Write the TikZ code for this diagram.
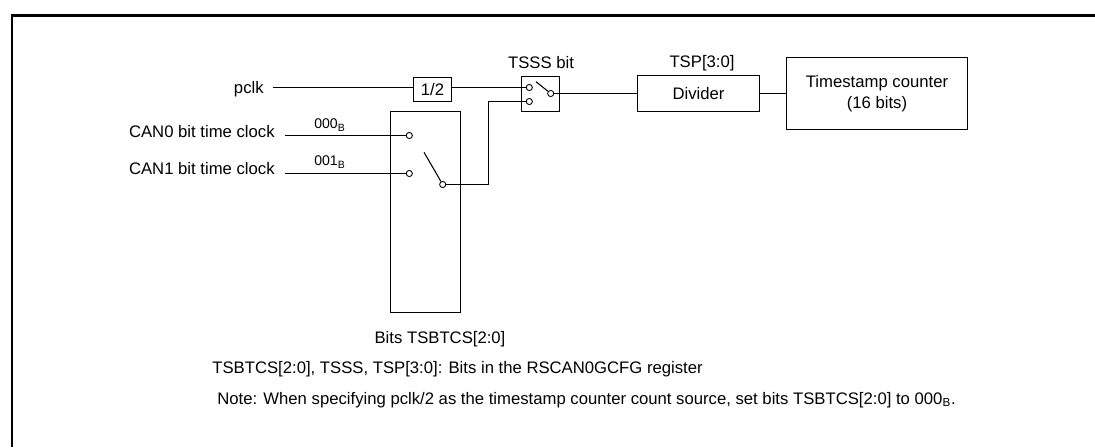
\documentclass[tikz,border=0pt]{standalone}
\usepackage{fontspec}
\setmainfont{Liberation Sans}
\usetikzlibrary{positioning}
\tikzset{
  blockbox/.style={draw,line width=0.6pt,inner sep=0pt,font=\fontsize{9.5pt}{11.7pt}\selectfont,align=center},
  contact/.style={draw,circle,fill=white,inner sep=0pt,minimum size=3.5pt,line width=0.5pt},
  wire/.style={line width=0.6pt},
  lbl/.style={font=\fontsize{9.5pt}{11.7pt}\selectfont,inner sep=0pt},
  sel/.style={font=\fontsize{8pt}{10pt}\selectfont,inner sep=0pt},
}
\newcommand{\subB}[1]{#1\textsubscript{B}}
\begin{document}
\begin{tikzpicture}[x=0.02cm,y=-0.02cm]
  \useasboundingbox (0,0) rectangle (1095,447);
  \draw[line width=1.15pt] (12,447) |- (1095,15.5);
  % blocks
  \node[blockbox,minimum width=0.76cm,minimum height=0.48cm] (half) at (432.5,89.5) {1/2};
  \node[blockbox,minimum width=1.4cm,minimum height=4.02cm] (selbox) at (425.5,212) {};
  \node[blockbox,minimum width=0.76cm,minimum height=0.7cm] (tsssbox) at (540.5,94) {};
  \node[blockbox,minimum width=2.44cm,minimum height=0.72cm] (divider) at (698.5,93.5) {Divider};
  \node[blockbox,minimum width=3.62cm,minimum height=1.44cm] (counter) at (877,93.5) {Timestamp counter\\(16 bits)};
  % labels
  \node[lbl,anchor=east] (pclk) at (264,89) {pclk};
  \node[lbl,anchor=east] (can0) at (275,132) {CAN0 bit time clock};
  \node[lbl,anchor=east] (can1) at (275,169) {CAN1 bit time clock};
  \node[lbl] (tsssbit) at (541,63) {TSSS bit};
  \node[lbl] (tspbits) at (702,63) {TSP[3:0]};
  \node[sel] (sel0) at (330,125) {\subB{000}};
  \node[sel] (sel1) at (330,162) {\subB{001}};
  \node[lbl] (tsbtcs) at (440,339) {Bits TSBTCS[2:0]};
  \node[lbl,anchor=west] (regnote) at (212,369) {TSBTCS[2:0], TSSS, TSP[3:0]: Bits in the RSCAN0GCFG register};
  \node[lbl,anchor=west] (note) at (217,400) {Note: When specifying pclk/2 as the timestamp counter count source, set bits TSBTCS[2:0] to \subB{000}.};
  % contacts
  \node[contact] (in0) at (409.3,135.5) {};
  \node[contact] (in1) at (409.3,173.5) {};
  \node[contact] (out) at (442.7,184.5) {};
  \node[contact] (tsssa) at (529.3,87.5) {};
  \node[contact] (tsssb) at (529.3,101.5) {};
  \node[contact] (tsssout) at (550.7,93.5) {};
  \coordinate (pclkend) at (272.7,87.5);
  \coordinate (can0end) at (285,135.5);
  \coordinate (can1end) at (285,173.5);
  \coordinate (arm) at (424,152.3);
  \coordinate (tsssarm) at (536,81.7);
  % wires
  \draw[wire] (pclkend) -- (pclkend -| half.west);
  \draw[wire] (half.east |- tsssa) -- (tsssa);
  \draw[wire] (can0end) -- (in0);
  \draw[wire] (can1end) -- (in1);
  \draw[wire] (arm) -- (out);
  \draw[wire] (tsssarm) -- (tsssout);
  \draw[wire] (out) -| (488.5,101.5) -- (tsssb);
  \draw[wire] (tsssout) -- (divider);
  \draw[wire] (divider) -- (counter);
\end{tikzpicture}
\end{document}
